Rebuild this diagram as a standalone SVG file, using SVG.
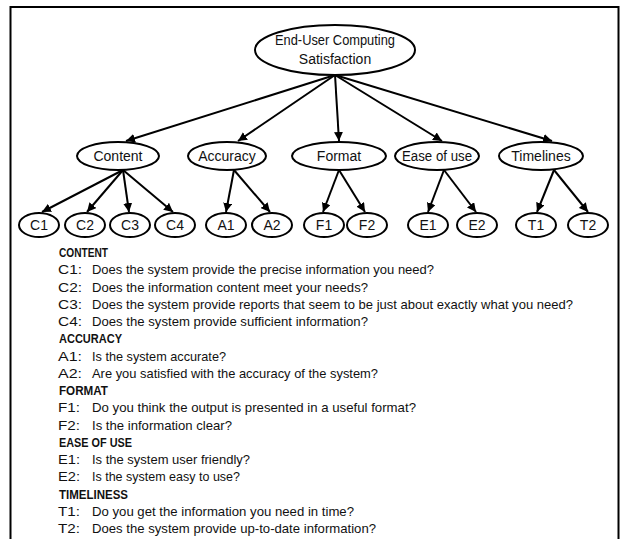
<svg xmlns="http://www.w3.org/2000/svg" width="627" height="539" viewBox="0 0 627 539">
<defs>
<marker id="ah" viewBox="0 0 10 10" refX="10" refY="5" markerWidth="4.5" markerHeight="4.5" orient="auto" markerUnits="strokeWidth">
<path d="M0,0 L10,5 L0,10 z" fill="#000"/>
</marker>
<style>
.n{fill:#fff;stroke:#000;stroke-width:2}
.t{font-family:"Liberation Sans",Arial,sans-serif;font-size:14px;fill:#111;text-anchor:middle}
.c{stroke:#000;stroke-width:2;fill:none;marker-end:url(#ah)}
.q{font-family:"Liberation Sans",Arial,sans-serif;font-size:13.5px;fill:#111}
.h{font-family:"Liberation Sans",Arial,sans-serif;font-size:13.5px;font-weight:bold;fill:#111}
</style>
</defs>
<rect x="0" y="0" width="627" height="539" fill="#fff"/>
<rect x="10.5" y="7" width="608" height="545" fill="none" stroke="#000" stroke-width="2"/>
<g id="connectors">
<line class="c" x1="335" y1="75" x2="126" y2="141"/>
<line class="c" x1="335" y1="75" x2="238" y2="141"/>
<line class="c" x1="335" y1="75" x2="339" y2="141"/>
<line class="c" x1="335" y1="75" x2="442" y2="141"/>
<line class="c" x1="335" y1="75" x2="552" y2="141"/>
<line class="c" x1="123" y1="170" x2="42" y2="212"/>
<line class="c" x1="123" y1="170" x2="87" y2="212"/>
<line class="c" x1="123" y1="170" x2="129" y2="212"/>
<line class="c" x1="123" y1="170" x2="173" y2="212"/>
<line class="c" x1="234" y1="170" x2="226" y2="212"/>
<line class="c" x1="234" y1="170" x2="270" y2="212"/>
<line class="c" x1="339" y1="170" x2="323" y2="212"/>
<line class="c" x1="339" y1="170" x2="365" y2="212"/>
<line class="c" x1="444" y1="170" x2="428" y2="212"/>
<line class="c" x1="444" y1="170" x2="476" y2="212"/>
<line class="c" x1="554" y1="170" x2="537" y2="212"/>
<line class="c" x1="554" y1="170" x2="588" y2="212"/>
</g>
<g id="root"><ellipse class="n" cx="335" cy="50" rx="80" ry="25"/><text class="t" x="335" y="45" textLength="120" lengthAdjust="spacingAndGlyphs">End-User Computing</text><text class="t" x="335" y="64">Satisfaction</text></g>
<g id="content"><ellipse class="n" cx="118" cy="156" rx="41" ry="14"/><text class="t" x="118" y="161">Content</text></g>
<g id="accuracy"><ellipse class="n" cx="227" cy="156" rx="39" ry="14"/><text class="t" x="227" y="161">Accuracy</text></g>
<g id="format"><ellipse class="n" cx="339" cy="156" rx="47" ry="14"/><text class="t" x="339" y="161">Format</text></g>
<g id="easeofuse"><ellipse class="n" cx="437" cy="156" rx="42" ry="14"/><text class="t" x="437" y="161" textLength="70" lengthAdjust="spacingAndGlyphs">Ease of use</text></g>
<g id="timelines"><ellipse class="n" cx="541" cy="156" rx="42" ry="14"/><text class="t" x="541" y="161">Timelines</text></g>
<g id="c1"><ellipse class="n" cx="39" cy="225" rx="20" ry="12"/><text class="t" x="39" y="230">C1</text></g>
<g id="c2"><ellipse class="n" cx="85" cy="225" rx="20" ry="12"/><text class="t" x="85" y="230">C2</text></g>
<g id="c3"><ellipse class="n" cx="130" cy="225" rx="20" ry="12"/><text class="t" x="130" y="230">C3</text></g>
<g id="c4"><ellipse class="n" cx="175" cy="225" rx="20" ry="12"/><text class="t" x="175" y="230">C4</text></g>
<g id="a1"><ellipse class="n" cx="226" cy="225" rx="20" ry="12"/><text class="t" x="226" y="230">A1</text></g>
<g id="a2"><ellipse class="n" cx="272" cy="225" rx="20" ry="12"/><text class="t" x="272" y="230">A2</text></g>
<g id="f1"><ellipse class="n" cx="324" cy="225" rx="20" ry="12"/><text class="t" x="324" y="230">F1</text></g>
<g id="f2"><ellipse class="n" cx="367" cy="225" rx="20" ry="12"/><text class="t" x="367" y="230">F2</text></g>
<g id="e1"><ellipse class="n" cx="428" cy="225" rx="20" ry="12"/><text class="t" x="428" y="230">E1</text></g>
<g id="e2"><ellipse class="n" cx="477" cy="225" rx="20" ry="12"/><text class="t" x="477" y="230">E2</text></g>
<g id="t1"><ellipse class="n" cx="536" cy="225" rx="20" ry="12"/><text class="t" x="536" y="230">T1</text></g>
<g id="t2"><ellipse class="n" cx="588" cy="225" rx="20" ry="12"/><text class="t" x="588" y="230">T2</text></g>
<g id="legend">
<text class="h" x="59" y="257" textLength="49" lengthAdjust="spacingAndGlyphs">CONTENT</text>
<text class="q" x="58" y="274.3" textLength="24" lengthAdjust="spacingAndGlyphs">C1:</text><text class="q" x="92" y="274.3" textLength="342" lengthAdjust="spacingAndGlyphs">Does the system provide the precise information you need?</text>
<text class="q" x="58" y="291.5" textLength="24" lengthAdjust="spacingAndGlyphs">C2:</text><text class="q" x="92" y="291.5" textLength="276" lengthAdjust="spacingAndGlyphs">Does the information content meet your needs?</text>
<text class="q" x="58" y="308.8" textLength="24" lengthAdjust="spacingAndGlyphs">C3:</text><text class="q" x="92" y="308.8" textLength="481" lengthAdjust="spacingAndGlyphs">Does the system provide reports that seem to be just about exactly what you need?</text>
<text class="q" x="58" y="326" textLength="24" lengthAdjust="spacingAndGlyphs">C4:</text><text class="q" x="92" y="326" textLength="276" lengthAdjust="spacingAndGlyphs">Does the system provide sufficient information?</text>
<text class="h" x="59" y="343.3" textLength="63" lengthAdjust="spacingAndGlyphs">ACCURACY</text>
<text class="q" x="58" y="360.5" textLength="24" lengthAdjust="spacingAndGlyphs">A1:</text><text class="q" x="92" y="360.5" textLength="134" lengthAdjust="spacingAndGlyphs">Is the system accurate?</text>
<text class="q" x="58" y="377.8" textLength="24" lengthAdjust="spacingAndGlyphs">A2:</text><text class="q" x="92" y="377.8" textLength="286" lengthAdjust="spacingAndGlyphs">Are you satisfied with the accuracy of the system?</text>
<text class="h" x="59" y="395" textLength="49" lengthAdjust="spacingAndGlyphs">FORMAT</text>
<text class="q" x="58" y="412.3" textLength="22" lengthAdjust="spacingAndGlyphs">F1:</text><text class="q" x="92" y="412.3" textLength="324" lengthAdjust="spacingAndGlyphs">Do you think the output is presented in a useful format?</text>
<text class="q" x="58" y="429.5" textLength="22" lengthAdjust="spacingAndGlyphs">F2:</text><text class="q" x="92" y="429.5" textLength="140" lengthAdjust="spacingAndGlyphs">Is the information clear?</text>
<text class="h" x="59" y="446.8" textLength="73" lengthAdjust="spacingAndGlyphs">EASE OF USE</text>
<text class="q" x="58" y="464" textLength="22" lengthAdjust="spacingAndGlyphs">E1:</text><text class="q" x="92" y="464" textLength="158" lengthAdjust="spacingAndGlyphs">Is the system user friendly?</text>
<text class="q" x="58" y="481.3" textLength="22" lengthAdjust="spacingAndGlyphs">E2:</text><text class="q" x="92" y="481.3" textLength="148" lengthAdjust="spacingAndGlyphs">Is the system easy to use?</text>
<text class="h" x="59" y="498.5" textLength="69" lengthAdjust="spacingAndGlyphs">TIMELINESS</text>
<text class="q" x="58" y="515.8" textLength="22" lengthAdjust="spacingAndGlyphs">T1:</text><text class="q" x="92" y="515.8" textLength="262" lengthAdjust="spacingAndGlyphs">Do you get the information you need in time?</text>
<text class="q" x="58" y="533" textLength="22" lengthAdjust="spacingAndGlyphs">T2:</text><text class="q" x="92" y="533" textLength="284" lengthAdjust="spacingAndGlyphs">Does the system provide up-to-date information?</text>
</g>
</svg>
